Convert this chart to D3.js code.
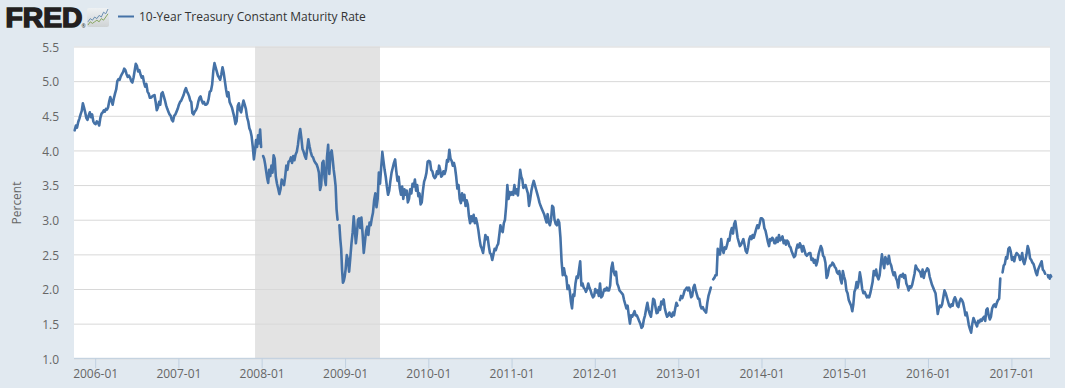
<!DOCTYPE html>
<html>
<head>
<meta charset="utf-8">
<title>10-Year Treasury Constant Maturity Rate</title>
<script src="https://cdn.jsdelivr.net/npm/d3@7"></script>
<style>
  html, body { margin: 0; padding: 0; background: #e1e9f0; overflow: hidden; }
  svg { display: block; }
  text { font-family: "Open Sans", sans-serif; }
</style>
</head>
<body>
<svg id="chart" width="1065" height="388"></svg>
<script>
const SERIES_NAME = "10-Year Treasury Constant Maturity Rate";
const Y_TICKS = [1.0, 1.5, 2.0, 2.5, 3.0, 3.5, 4.0, 4.5, 5.0, 5.5];
const X_TICK_YEARS = [2006, 2007, 2008, 2009, 2010, 2011, 2012, 2013, 2014, 2015, 2016, 2017];
const RECESSION = ["2007-12-01", "2009-06-01"];

// one row per month, spread evenly over the month
// null = missing reading, the line breaks there
const rate2005 = [ // from October
  [4.29, 4.36, 4.33, 4.41, 4.46, 4.52],
  [4.57, 4.68, 4.62, 4.55, 4.47, 4.44],
  [4.50, 4.55, 4.48, 4.52, 4.42, 4.39]
];
const rate2006 = [
  [4.38, 4.42, 4.40, 4.36, 4.47, 4.53],
  [4.55, 4.58, 4.56, 4.60, 4.59, 4.62],
  [4.70, 4.77, 4.72, 4.66, 4.75, 4.82],
  [4.88, 5.00, 5.03, 5.02, 5.07, 5.10],
  [5.13, 5.18, 5.16, 5.10, 5.06, 5.08],
  [5.05, 5.00, 4.98, 5.05, 5.15, 5.25],
  [5.22, 5.14, 5.16, 5.10, 5.05, 5.07],
  [4.98, 4.92, 4.96, 4.85, 4.82, 4.76],
  [4.76, 4.78, 4.79, 4.80, 4.70, 4.58],
  [4.62, 4.70, 4.66, 4.82, 4.84, 4.78],
  [4.72, 4.65, 4.60, 4.56, 4.52, 4.50],
  [4.44, 4.42, 4.50, 4.52, 4.56, 4.60]
];
const rate2007 = [
  [4.66, 4.70, 4.72, 4.76, 4.80, 4.86],
  [4.90, 4.85, 4.82, 4.78, 4.72, 4.70],
  [4.54, 4.52, 4.56, 4.58, 4.62, 4.70],
  [4.76, 4.78, 4.72, 4.68, 4.70, 4.66],
  [4.66, 4.68, 4.74, 4.85, 4.86, 4.95],
  [5.15, 5.26, 5.20, 5.14, 5.08, 5.05],
  [5.02, 5.10, 5.20, 5.12, 5.00, 4.88],
  [4.78, 4.84, 4.70, 4.66, 4.62, 4.55],
  [4.48, 4.38, 4.42, 4.64, 4.68, 4.58],
  [4.55, 4.64, 4.72, 4.66, 4.60, 4.48],
  [4.42, 4.32, 4.28, 4.20, 4.05, 3.87],
  [4.00, 4.15, 4.05, 4.22, 4.10, 4.30, 4.05]
];
const rate2008 = [
  [null, 3.92, 3.88, 3.80, 3.70, 3.60, 3.53],
  [3.72, 3.63, 3.78, 3.68, 3.93, 3.88],
  [3.62, 3.52, 3.45, 3.37, 3.44, 3.58],
  [3.55, 3.50, 3.62, 3.78, 3.72, 3.84],
  [3.85, 3.90, 3.82, 3.92, 3.86, 3.94],
  [3.98, 4.08, 4.22, 4.31, 4.18, 4.02],
  [3.98, 3.92, 3.88, 4.02, 4.16, 4.06],
  [3.98, 3.92, 3.90, 3.85, 3.82, 3.80],
  [3.75, 3.68, 3.43, 3.50, 3.82, 3.85],
  [3.60, 3.50, 3.90, 4.08, 3.66, 3.95],
  [4.00, 3.88, 3.73, 3.62, 3.49, 3.15, 3.00],
  [null, 2.92, 2.72, 2.58, 2.28, 2.09, 2.12, 2.18]
];
const rate2009 = [
  [2.28, 2.49, 2.42, 2.25, 2.45, 2.66],
  [2.82, 3.05, 2.86, 2.66, 2.80, 3.00],
  [3.02, 2.88, 3.03, 2.80, 2.52, 2.68],
  [2.84, 2.90, 2.78, 2.96, 2.92, 3.02],
  [3.10, 3.28, 3.38, 3.18, 3.30, 3.68],
  [3.52, 3.75, 3.98, 3.85, 3.72, 3.62],
  [3.48, 3.36, 3.42, 3.56, 3.68, 3.75],
  [3.82, 3.87, 3.70, 3.56, 3.62, 3.45],
  [3.36, 3.48, 3.30, 3.44, 3.36, 3.42],
  [3.25, 3.30, 3.44, 3.38, 3.52, 3.48],
  [3.58, 3.42, 3.50, 3.34, 3.38, 3.22],
  [3.25, 3.42, 3.55, 3.60, 3.68, 3.84]
];
const rate2010 = [
  [3.85, 3.84, 3.72, 3.70, 3.63, 3.60],
  [3.62, 3.70, 3.66, 3.78, 3.72, 3.62],
  [3.64, 3.70, 3.66, 3.72, 3.86, 3.84],
  [4.01, 3.88, 3.85, 3.78, 3.82, 3.75],
  [3.62, 3.45, 3.50, 3.30, 3.24, 3.38],
  [3.28, 3.36, 3.20, 3.28, 3.22, 3.05],
  [2.95, 3.05, 2.98, 3.07, 2.95, 3.02],
  [2.95, 2.85, 2.72, 2.62, 2.58, 2.52],
  [2.65, 2.78, 2.72, 2.75, 2.62, 2.52],
  [2.50, 2.42, 2.50, 2.58, 2.56, 2.62],
  [2.65, 2.78, 2.92, 2.85, 2.82, 2.95],
  [3.00, 3.20, 3.50, 3.30, 3.40, 3.36]
];
const rate2011 = [
  [3.40, 3.36, 3.50, 3.38, 3.44, 3.35],
  [3.55, 3.72, 3.62, 3.58, 3.46, 3.48],
  [3.50, 3.44, 3.38, 3.20, 3.30, 3.42],
  [3.50, 3.56, 3.50, 3.44, 3.38, 3.32],
  [3.25, 3.20, 3.16, 3.12, 3.08, 3.02],
  [2.96, 3.08, 2.96, 2.92, 3.00, 3.20],
  [3.18, 3.00, 2.94, 2.92, 3.00, 2.96],
  [2.75, 2.40, 2.20, 2.30, 2.20, 2.18],
  [2.00, 2.05, 1.98, 1.82, 1.72, 1.92],
  [1.90, 2.08, 2.18, 2.16, 2.28, 2.40],
  [2.05, 2.08, 2.02, 2.00, 1.96, 2.00],
  [2.08, 2.02, 1.98, 1.92, 1.88, 1.90]
];
const rate2012 = [
  [2.00, 1.95, 1.98, 1.90, 2.08, 1.88],
  [1.90, 1.96, 2.00, 1.98, 2.02, 1.98],
  [1.98, 2.05, 2.30, 2.38, 2.25, 2.20],
  [2.25, 2.08, 2.04, 1.98, 1.96, 1.94],
  [1.92, 1.84, 1.78, 1.72, 1.76, 1.62],
  [1.50, 1.62, 1.60, 1.64, 1.68, 1.62],
  [1.62, 1.58, 1.54, 1.50, 1.44, 1.46],
  [1.56, 1.62, 1.72, 1.80, 1.70, 1.64],
  [1.60, 1.72, 1.86, 1.84, 1.74, 1.65],
  [1.66, 1.74, 1.70, 1.82, 1.78, 1.85],
  [1.72, 1.65, 1.60, 1.62, 1.66, 1.62],
  [1.60, 1.66, 1.62, 1.72, 1.80, 1.76]
];
const rate2013 = [
  [null, 1.84, 1.90, 1.87, 1.92, 1.98],
  [2.00, 2.02, 1.98, 2.02, 1.96, 1.88],
  [1.90, 2.02, 2.06, 1.98, 1.92, 1.86],
  [1.86, 1.76, 1.72, 1.74, 1.70, 1.68],
  [1.66, 1.80, 1.90, 1.96, 2.02, null],
  [2.14, 2.16, 2.20, 2.20, 2.58, 2.50],
  [2.50, 2.72, 2.58, 2.52, 2.60, 2.58],
  [2.64, 2.72, 2.70, 2.82, 2.88, 2.80],
  [2.94, 2.98, 2.86, 2.74, 2.68, 2.62],
  [2.64, 2.68, 2.72, 2.64, 2.55, 2.52],
  [2.60, 2.72, 2.76, 2.72, 2.78, 2.74],
  [2.80, 2.86, 2.92, 2.88, 2.94, 3.02]
];
const rate2014 = [
  [3.02, 3.00, 2.88, 2.84, 2.76, 2.68],
  [2.62, 2.72, 2.70, 2.74, 2.72, 2.66],
  [2.66, 2.74, 2.68, 2.78, 2.70, 2.72],
  [2.76, 2.66, 2.70, 2.64, 2.70, 2.68],
  [2.62, 2.60, 2.54, 2.50, 2.46, 2.48],
  [2.58, 2.64, 2.60, 2.66, 2.62, 2.54],
  [2.62, 2.56, 2.50, 2.48, 2.50, 2.52],
  [2.52, 2.42, 2.44, 2.38, 2.42, 2.34],
  [2.40, 2.50, 2.56, 2.62, 2.58, 2.48],
  [2.46, 2.38, 2.16, 2.20, 2.30, 2.34],
  [2.34, 2.38, 2.36, 2.32, 2.30, 2.24],
  [2.22, 2.26, 2.14, 2.08, 2.26, 2.18]
];
const rate2015 = [
  [2.12, 1.98, 1.94, 1.84, 1.80, 1.76],
  [1.68, 1.78, 1.96, 2.00, 2.10, 2.02],
  [2.10, 2.24, 2.14, 2.00, 1.94, 1.96],
  [1.92, 1.88, 1.90, 1.88, 1.94, 2.02],
  [2.10, 2.26, 2.20, 2.28, 2.18, 2.14],
  [2.20, 2.36, 2.50, 2.38, 2.30, 2.46],
  [2.42, 2.36, 2.48, 2.38, 2.34, 2.26],
  [2.20, 2.24, 2.16, 2.12, 2.02, 2.18],
  [2.20, 2.18, 2.22, 2.16, 2.20, 2.08],
  [2.04, 1.98, 2.04, 2.02, 2.06, 2.14],
  [2.22, 2.34, 2.30, 2.28, 2.26, 2.24],
  [2.18, 2.28, 2.16, 2.24, 2.26, 2.30]
];
const rate2016 = [
  [2.28, 2.18, 2.12, 2.06, 2.02, 1.98],
  [1.94, 1.80, 1.64, 1.72, 1.76, 1.74],
  [1.78, 1.88, 1.98, 1.94, 1.88, 1.82],
  [1.76, 1.74, 1.78, 1.76, 1.84, 1.88],
  [1.84, 1.76, 1.74, 1.82, 1.86, 1.84],
  [1.80, 1.72, 1.62, 1.66, 1.58, 1.48],
  [1.42, 1.37, 1.50, 1.58, 1.54, 1.50],
  [1.46, 1.54, 1.52, 1.56, 1.54, 1.58],
  [1.60, 1.54, 1.70, 1.72, 1.62, 1.56],
  [1.60, 1.72, 1.76, 1.78, 1.74, 1.80],
  [1.84, 1.86, 2.15, null, 2.24, 2.34],
  [2.36, 2.46, 2.44, 2.58, 2.60, 2.54]
];
const rate2017 = [ // through mid June
  [2.42, 2.46, 2.40, 2.48, 2.52, 2.50],
  [2.48, 2.42, 2.44, 2.52, 2.40, 2.36],
  [2.42, 2.50, 2.62, 2.56, 2.44, 2.42],
  [2.38, 2.36, 2.30, 2.24, 2.20, 2.28],
  [2.32, 2.36, 2.40, 2.28, 2.26, 2.22],
  [null, null, 2.20, 2.17, 2.19, 2.15, 2.20, 2.18, null, null]
];

// little chart in the logo
const iconBlue = [2, 4, 3, 5, 4, 6, 5, 8, 7, 10];
const iconGreen = [0, 2, 1, 2, 3, 2, 4, 3, 5, 7];

const W = 1065, H = 388;
const margin = { top: 46.5, right: 15, bottom: 29.7, left: 74 };

const svg = d3.select("#chart");

const yearRows = [
  [2005, 9, rate2005], [2006, 0, rate2006], [2007, 0, rate2007], [2008, 0, rate2008],
  [2009, 0, rate2009], [2010, 0, rate2010], [2011, 0, rate2011], [2012, 0, rate2012],
  [2013, 0, rate2013], [2014, 0, rate2014], [2015, 0, rate2015], [2016, 0, rate2016],
  [2017, 0, rate2017]
];

const points = [];
yearRows.forEach(([year, firstMonth, rows]) => {
  rows.forEach((row, m) => {
    const start = +new Date(year, firstMonth + m, 1);
    const end = +new Date(year, firstMonth + m + 1, 1);
    row.forEach((v, k) => {
      points.push({ date: new Date(start + (end - start) * k / row.length), value: v });
    });
  });
});

const x = d3.scaleTime()
  .domain([new Date(2005, 8, 28), new Date(2017, 5, 17)])
  .range([margin.left, W - margin.right]);

const y = d3.scaleLinear()
  .domain([1, 5.5])
  .range([H - margin.bottom, margin.top]);

// plot area
svg.append("rect")
  .attr("x", margin.left)
  .attr("y", margin.top)
  .attr("width", W - margin.left - margin.right)
  .attr("height", H - margin.top - margin.bottom)
  .attr("fill", "#fff");

const parseDay = d3.timeParse("%Y-%m-%d");
svg.append("rect")
  .attr("x", x(parseDay(RECESSION[0])))
  .attr("y", margin.top)
  .attr("width", x(parseDay(RECESSION[1])) - x(parseDay(RECESSION[0])))
  .attr("height", H - margin.top - margin.bottom)
  .attr("fill", "#e3e3e3");

// y axis + grid
const yAxis = svg.append("g")
  .attr("transform", "translate(" + margin.left + ",0)")
  .call(d3.axisLeft(y)
    .tickValues(Y_TICKS)
    .tickFormat(d3.format(".1f"))
    .tickSize(-(W - margin.left - margin.right))
    .tickPadding(15));
yAxis.select(".domain").remove();
yAxis.selectAll(".tick line").attr("stroke", "#d8d8d8");
yAxis.selectAll(".tick text")
  .attr("y", 1)
  .attr("fill", "#666")
  .style("font-size", "12px");

// x axis
const xAxis = svg.append("g")
  .attr("transform", "translate(0," + (H - margin.bottom) + ")")
  .call(d3.axisBottom(x)
    .tickValues(X_TICK_YEARS.map(yr => new Date(yr, 0, 1)))
    .tickFormat(d3.timeFormat("%Y-%m"))
    .tickSize(10)
    .tickSizeOuter(0)
    .tickPadding(1)
    .offset(0));
xAxis.select(".domain").attr("stroke", "#c0d0e0");
xAxis.selectAll(".tick line").attr("stroke", "#c0d0e0");
xAxis.selectAll(".tick text")
  .attr("fill", "#666")
  .style("font-size", "12px");

svg.append("text")
  .attr("transform", "translate(21,203) rotate(-90)")
  .attr("text-anchor", "middle")
  .attr("fill", "#666")
  .style("font-size", "12px")
  .text("Percent");

// series
const line = d3.line()
  .defined(d => d.value !== null)
  .x(d => x(d.date))
  .y(d => y(d.value));

svg.append("path")
  .datum(points)
  .attr("fill", "none")
  .attr("stroke", "#4572a7")
  .attr("stroke-width", 2.6)
  .attr("stroke-linejoin", "round")
  .attr("stroke-linecap", "round")
  .attr("d", line);

// legend
svg.append("line")
  .attr("x1", 118).attr("x2", 134)
  .attr("y1", 16.5).attr("y2", 16.5)
  .attr("stroke", "#4572a7")
  .attr("stroke-width", 2);

svg.append("text")
  .attr("x", 139)
  .attr("y", 21)
  .attr("fill", "#333")
  .style("font-size", "12px")
  .text(SERIES_NAME);

// FRED logo
svg.append("text")
  .attr("x", 5.5)
  .attr("y", 27)
  .attr("textLength", 77)
  .attr("lengthAdjust", "spacingAndGlyphs")
  .attr("fill", "#231f20")
  .attr("stroke", "#231f20")
  .attr("stroke-width", 1.5)
  .style("font-family", "'Liberation Sans', sans-serif")
  .style("font-weight", 700)
  .style("font-size", "27px")
  .text("FRED");

svg.append("text")
  .attr("x", 81.5)
  .attr("y", 28)
  .attr("fill", "#231f20")
  .style("font-size", "5px")
  .text("®");

const defs = svg.append("defs");
const grad = defs.append("linearGradient")
  .attr("id", "iconBg")
  .attr("x1", 0).attr("x2", 0).attr("y1", 0).attr("y2", 1);
grad.append("stop").attr("offset", "0%").attr("stop-color", "#eef1f3");
grad.append("stop").attr("offset", "100%").attr("stop-color", "#cfd3d4");

const icon = svg.append("g").attr("transform", "translate(87,8)");
icon.append("rect")
  .attr("width", 22).attr("height", 19).attr("rx", 2)
  .attr("fill", "url(#iconBg)");

const iconX = d3.scaleLinear().domain([0, iconBlue.length - 1]).range([1, 21]);
const iconY = d3.scaleLinear().domain([0, 10]).range([17, 1]);
const iconLine = d3.line().x((d, i) => iconX(i)).y(d => iconY(d));
icon.append("path").attr("d", iconLine(iconBlue))
  .attr("fill", "none").attr("stroke", "#5f86ac").attr("stroke-width", 0.9);
icon.append("path").attr("d", iconLine(iconGreen))
  .attr("fill", "none").attr("stroke", "#7f9f55").attr("stroke-width", 0.9);
</script>
</body>
</html>
